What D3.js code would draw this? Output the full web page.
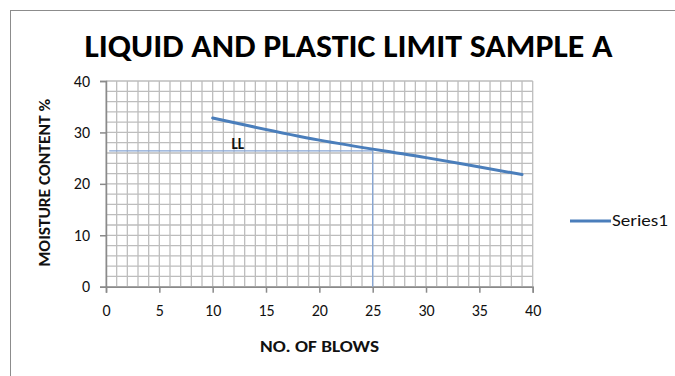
<!DOCTYPE html>
<html>
<head>
<meta charset="utf-8">
<script src="https://cdn.jsdelivr.net/npm/d3@7/dist/d3.min.js"></script>
<style>
  html, body { margin: 0; padding: 0; background: #fff; }
  svg { display: block; }
</style>
</head>
<body>
<svg id="chart" width="675" height="376"></svg>
<script>
// Flow curve: number of blows vs moisture content
const blows = [10, 20, 30, 39];
const moisture = [32.8, 28.5, 25.1, 21.8];

// Liquid limit read at 25 blows
const llBlows = 25;
const llMoisture = 26.4;

const xTicks = [0, 5, 10, 15, 20, 25, 30, 35, 40];
const yTicks = [0, 10, 20, 30, 40];
const xMinor = d3.range(0, 41, 1);
const yMinor = d3.range(0, 41, 2);

const titleText = "LIQUID AND PLASTIC LIMIT SAMPLE A";
const xTitle = "NO. OF BLOWS";
const yTitle = "MOISTURE CONTENT %";
const seriesName = "Series1";

const svg = d3.select("#chart");
const font = "Carlito, 'Open Sans', 'Liberation Sans', sans-serif";

// chart frame
svg.append("rect")
  .attr("x", 10.5).attr("y", 10.5)
  .attr("width", 700).attr("height", 400)
  .attr("fill", "#fff").attr("stroke", "#8c8c8c").attr("stroke-width", 1);

const x = d3.scaleLinear().domain([0, 40]).range([106, 532.7]);
const y = d3.scaleLinear().domain([0, 40]).range([286.7, 81]);

const gridColor = "#bdbdbd";

// grid
const grid = svg.append("g");
grid.selectAll("line.vx").data(xMinor).join("line")
  .attr("x1", d => x(d)).attr("x2", d => x(d))
  .attr("y1", y(0)).attr("y2", y(40))
  .attr("stroke", gridColor).attr("stroke-width", 1.3);
grid.selectAll("line.hy").data(yMinor).join("line")
  .attr("y1", d => y(d)).attr("y2", d => y(d))
  .attr("x1", x(0)).attr("x2", x(40))
  .attr("stroke", gridColor).attr("stroke-width", 1.3);

// axes
const xAxis = svg.append("g")
  .attr("transform", `translate(0,${y(0)})`)
  .call(d3.axisBottom(x).tickValues(xTicks).tickSize(6).tickPadding(12).tickFormat(d3.format("d")));
const yAxis = svg.append("g")
  .attr("transform", `translate(${x(0)},0)`)
  .call(d3.axisLeft(y).tickValues(yTicks).tickSize(6).tickPadding(10).tickFormat(d3.format("d")));

[xAxis, yAxis].forEach(g => {
  g.select(".domain").attr("stroke", "#8a8a8a").attr("stroke-width", 1.5);
  g.selectAll(".tick line").attr("stroke", "#8a8a8a").attr("stroke-width", 1.5);
  g.selectAll(".tick text")
    .attr("fill", "#111").style("font-family", font).style("font-size", "16px");
});

// liquid limit construction lines
const guide = svg.append("g");
guide.append("line")
  .attr("x1", x(0.3)).attr("x2", x(llBlows))
  .attr("y1", y(llMoisture)).attr("y2", y(llMoisture))
  .attr("stroke", "#86a5d4").attr("stroke-width", 1.3);
guide.append("line")
  .attr("x1", x(llBlows)).attr("x2", x(llBlows))
  .attr("y1", y(llMoisture)).attr("y2", y(0))
  .attr("stroke", "#86a5d4").attr("stroke-width", 1.3);

// flow curve
const pts = blows.map((b, i) => [b, moisture[i]]);
svg.append("path")
  .datum(pts)
  .attr("fill", "none")
  .attr("stroke", "#4a7ebb")
  .attr("stroke-width", 3)
  .attr("stroke-linecap", "round")
  .attr("d", d3.line().x(d => x(d[0])).y(d => y(d[1])).curve(d3.curveCatmullRom));

// LL label
svg.append("text")
  .attr("x", x(12.35)).attr("y", y(26.8))
  .attr("text-anchor", "middle")
  .style("font-family", font).style("font-size", "15px").style("font-weight", "bold")
  .attr("fill", "#111").text("LL");

// title
svg.append("text")
  .attr("x", 348.5).attr("y", 57)
  .attr("text-anchor", "middle")
  .attr("textLength", 528).attr("lengthAdjust", "spacingAndGlyphs")
  .style("font-family", font).style("font-size", "32px").style("font-weight", "bold")
  .attr("fill", "#000").text(titleText);

// axis titles
svg.append("text")
  .attr("x", 319.5).attr("y", 352)
  .attr("text-anchor", "middle")
  .attr("textLength", 119).attr("lengthAdjust", "spacingAndGlyphs")
  .style("font-family", font).style("font-size", "15.5px").style("font-weight", "bold")
  .attr("fill", "#111").text(xTitle);

svg.append("text")
  .attr("transform", `translate(50,${y(20) - 1}) rotate(-90)`)
  .attr("text-anchor", "middle")
  .attr("textLength", 168).attr("lengthAdjust", "spacingAndGlyphs")
  .style("font-family", font).style("font-size", "15px").style("font-weight", "bold")
  .attr("fill", "#111").text(yTitle);

// legend
const lg = svg.append("g");
lg.append("line")
  .attr("x1", 570).attr("x2", 611).attr("y1", 221).attr("y2", 221)
  .attr("stroke", "#4a7ebb").attr("stroke-width", 3);
lg.append("text")
  .attr("x", 612).attr("y", 220).attr("dy", "0.35em")
  .attr("textLength", 56).attr("lengthAdjust", "spacingAndGlyphs")
  .style("font-family", font).style("font-size", "17px")
  .attr("fill", "#111").text(seriesName);
</script>
</body>
</html>
